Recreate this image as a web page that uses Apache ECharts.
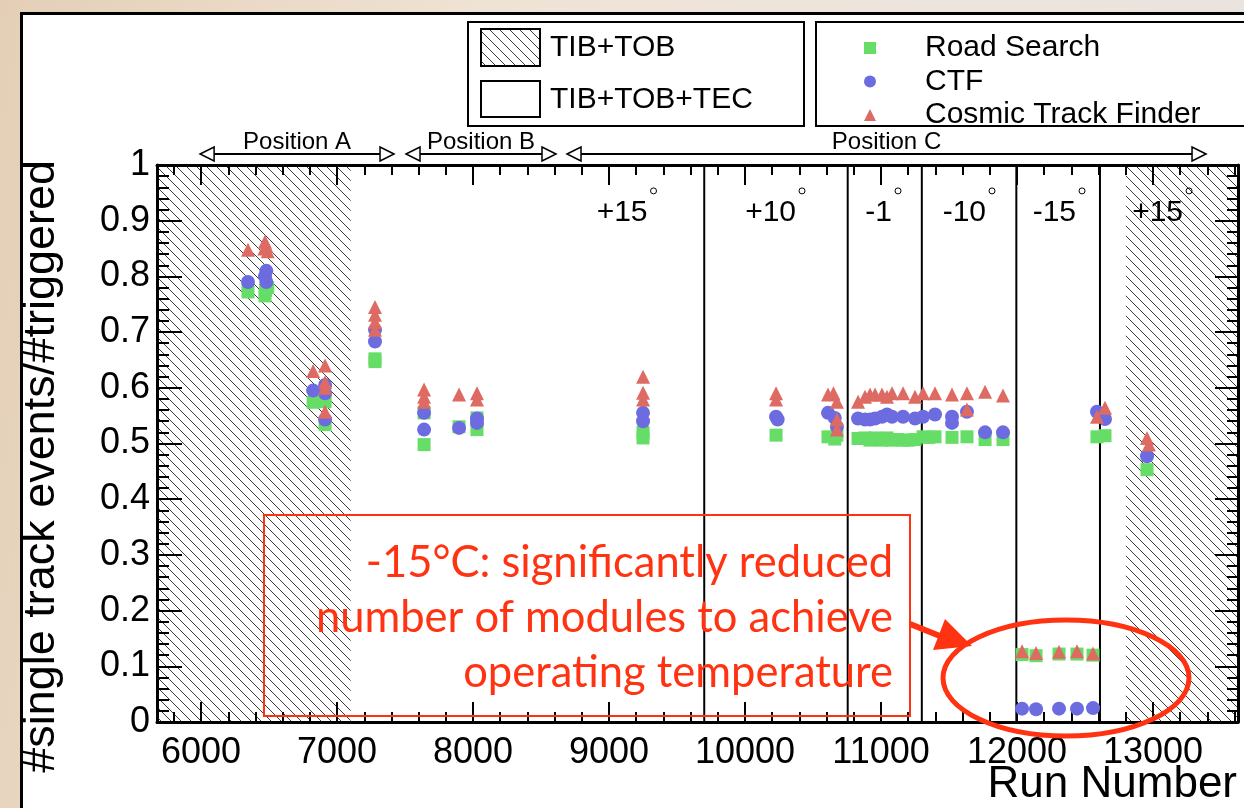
<!DOCTYPE html>
<html>
<head>
<meta charset="utf-8">
<script src="https://cdn.jsdelivr.net/npm/echarts@6.0.0/dist/echarts.min.js"></script>
<style>
html, body { margin:0; padding:0; width:1244px; height:808px; overflow:hidden; }
body { position:relative; background: linear-gradient(100deg, #e4cfb6 0%, #efe3d5 35%, #ece5de 70%, #e9e3dd 100%); }
#panel { position:absolute; left:20px; top:12px; width:1240px; height:810px; background:#fff; border-left:3px solid #000; border-top:3px solid #000; }
#chart { position:absolute; left:0; top:0; width:1244px; height:808px; }
</style>
</head>
<body>
<div id="panel"></div>
<div id="chart"></div>
<script>
// ---------------- data ----------------
const xMin = 5676, xMax = 13625;
const xTickValues = [6000, 7000, 8000, 9000, 10000, 11000, 12000, 13000];
const xTickLabels = ['6000', '7000', '8000', '9000', '10000', '11000', '12000', '13000'];
const yTickLabels = ['0', '0.1', '0.2', '0.3', '0.4', '0.5', '0.6', '0.7', '0.8', '0.9', '1'];
const seriesNames = ['Road Search', 'CTF', 'Cosmic Track Finder'];

const roadSearch = [
  [6345, 0.772], [6470, 0.765], [6475, 0.775], [6490, 0.780],
  [6824, 0.574], [6912, 0.575], [6912, 0.534],
  [7279, 0.647], [7279, 0.652],
  [7640, 0.555], [7640, 0.498],
  [7897, 0.530],
  [8029, 0.546], [8029, 0.525],
  [9250, 0.520], [9250, 0.510],
  [10228, 0.515],
  [10610, 0.512], [10660, 0.508], [10676, 0.515],
  [10831, 0.509], [10882, 0.510], [10919, 0.506], [10956, 0.510], [10990, 0.508], [11007, 0.506],
  [11044, 0.510], [11081, 0.506], [11120, 0.507], [11162, 0.506], [11200, 0.506], [11250, 0.507],
  [11309, 0.512], [11350, 0.511], [11397, 0.512], [11522, 0.511], [11632, 0.512], [11765, 0.507], [11897, 0.507],
  [12037, 0.121], [12140, 0.119], [12309, 0.122], [12441, 0.122], [12559, 0.120],
  [12588, 0.512], [12647, 0.514],
  [12956, 0.453]
];
const ctf = [
  [6345, 0.790], [6470, 0.800], [6480, 0.810], [6480, 0.790],
  [6824, 0.595], [6912, 0.605], [6912, 0.590], [6912, 0.543],
  [7279, 0.704], [7279, 0.683],
  [7640, 0.555], [7640, 0.525],
  [7897, 0.528],
  [8029, 0.537], [8029, 0.545],
  [9250, 0.555], [9250, 0.540],
  [10228, 0.548], [10240, 0.543],
  [10610, 0.555], [10660, 0.546], [10676, 0.530],
  [10831, 0.545], [10882, 0.543], [10919, 0.543], [10956, 0.545], [11007, 0.548], [11044, 0.552],
  [11081, 0.548], [11162, 0.548], [11250, 0.545],
  [11309, 0.548], [11397, 0.552], [11522, 0.548], [11522, 0.537], [11632, 0.557], [11765, 0.520], [11897, 0.520],
  [12037, 0.024], [12140, 0.023], [12309, 0.024], [12441, 0.024], [12559, 0.025],
  [12588, 0.557], [12647, 0.544],
  [12956, 0.477]
];
const cosmicTrackFinder = [
  [6345, 0.848], [6465, 0.850], [6470, 0.862], [6480, 0.855], [6490, 0.845],
  [6824, 0.630], [6912, 0.640], [6912, 0.610], [6912, 0.600], [6912, 0.557],
  [7279, 0.745], [7279, 0.731], [7279, 0.718], [7279, 0.704],
  [7640, 0.597], [7640, 0.584], [7640, 0.575],
  [7897, 0.588],
  [8029, 0.590], [8029, 0.579],
  [9250, 0.620], [9250, 0.591], [9250, 0.579],
  [10228, 0.590], [10228, 0.579],
  [10610, 0.588], [10650, 0.590], [10676, 0.575], [10676, 0.543], [10676, 0.525],
  [10831, 0.575], [10882, 0.584], [10919, 0.588], [10956, 0.588], [11007, 0.588], [11044, 0.584],
  [11081, 0.590], [11162, 0.590], [11250, 0.584],
  [11309, 0.590], [11397, 0.590], [11522, 0.588], [11632, 0.590], [11632, 0.561], [11765, 0.593], [11897, 0.586],
  [12037, 0.127], [12140, 0.124], [12309, 0.126], [12441, 0.127], [12559, 0.123],
  [12588, 0.548], [12647, 0.564],
  [12956, 0.510], [12970, 0.498]
];

const hatchRanges = [[xMin, 7100], [12800, xMax]];
const dividerRuns = [9700, 10755, 11300, 11995, 12610];
const tempLabels = ['+15', '+10', '-1', '-10', '-15', '+15'];
const tempLabelRightRuns = [9283, 10375, 11081, 11772, 12434, 13221];
const tempLabelValue = 0.914;
const positionNames = ['Position A', 'Position B', 'Position C'];
const positionRanges = [[5993, 7419], [7507, 8610], [8691, 13390]];
const detectorLegend = ['TIB+TOB', 'TIB+TOB+TEC'];
const annotationLines = ['-15°C: significantly reduced', 'number of modules to achieve', 'operating temperature'];
const yTitle = '#single track events/#triggered';
const xTitle = 'Run Number';

const xMinorTicks = [];
for (let v = 5800; v <= 13600; v += 200) xMinorTicks.push(v);

// ---------------- styling helpers ----------------
function makeHatch() {
  const c = document.createElement('canvas');
  c.width = 10; c.height = 10;
  const g = c.getContext('2d');
  g.strokeStyle = '#3a3a3a';
  g.lineWidth = 1;
  g.beginPath();
  g.moveTo(-2, -2); g.lineTo(12, 12);
  g.moveTo(-2, 8); g.lineTo(2, 12);
  g.moveTo(8, -2); g.lineTo(12, 2);
  g.stroke();
  return c;
}
const hatchCanvas = makeHatch();
const hatchFill = { image: hatchCanvas, repeat: 'repeat' };
const FONT = '"Liberation Sans", Arial, Helvetica, sans-serif';
const RED = '#ff3311';
const NOTE_FONT = '43.5px Lato, "Open Sans", sans-serif';

function xAxisDef(pos, ticks, len, showLine, showLabel) {
  return {
    type: 'value', min: xMin, max: xMax, position: pos, gridIndex: 0,
    axisLine: { show: showLine, onZero: false, lineStyle: { color: '#000', width: 3 } },
    axisTick: { show: true, inside: true, length: len, customValues: ticks, lineStyle: { color: '#000', width: 2 } },
    axisLabel: showLabel ? {
      show: true, customValues: xTickValues, margin: 13, color: '#000', fontSize: 36, fontFamily: FONT,
      formatter: v => xTickLabels[xTickValues.indexOf(v)] ?? String(v)
    } : { show: false },
    splitLine: { show: false }, minorSplitLine: { show: false }
  };
}
function yAxisDef(pos, len, minorLen, showLabel) {
  return {
    type: 'value', min: 0, max: 1, interval: 0.1, position: pos, gridIndex: 0,
    axisLine: { show: true, onZero: false, lineStyle: { color: '#000', width: 3 } },
    axisTick: { show: true, inside: true, length: len, lineStyle: { color: '#000', width: 2 } },
    minorTick: { show: true, splitNumber: 5, length: minorLen, lineStyle: { color: '#000', width: 2 } },
    axisLabel: showLabel ? {
      show: true, margin: 7, color: '#000', fontSize: 36, fontFamily: FONT,
      formatter: v => yTickLabels[Math.round(v * 10)]
    } : { show: false },
    splitLine: { show: false }, minorSplitLine: { show: false }
  };
}

const chart = echarts.init(document.getElementById('chart'), null, { renderer: 'canvas' });

const option = {
  animation: false,
  backgroundColor: 'transparent',
  grid: { left: 157, top: 165, width: 1081, height: 557, containLabel: false },
  xAxis: [
    xAxisDef('bottom', xTickValues, 20, true, true),
    xAxisDef('bottom', xMinorTicks, 10, false, false),
    xAxisDef('top', xTickValues, 20, true, false),
    xAxisDef('top', xMinorTicks, 10, false, false)
  ],
  yAxis: [
    yAxisDef('left', 25, 12, true),
    yAxisDef('right', 23, 11, false)
  ],
  legend: {
    show: true, orient: 'vertical', left: 859, top: 28,
    itemWidth: 12, itemHeight: 12, itemGap: 3.5, selectedMode: false,
    data: seriesNames,
    textStyle: { fontFamily: FONT, fontSize: 30, color: '#000', lineHeight: 30, padding: [0, 0, 0, 44] }
  },
  graphic: [
    // detector legend box
    { type: 'rect', z: 100, shape: { x: 468, y: 22, width: 336, height: 104 }, style: { fill: '#fff', stroke: '#000', lineWidth: 2 } },
    { type: 'rect', z: 101, shape: { x: 481, y: 29, width: 59, height: 37 }, style: { fill: hatchFill, stroke: '#000', lineWidth: 2 } },
    { type: 'rect', z: 101, shape: { x: 481, y: 81, width: 59, height: 36 }, style: { fill: '#fff', stroke: '#000', lineWidth: 2 } },
    { type: 'text', z: 101, x: 550, y: 48, style: { text: detectorLegend[0], font: '30px ' + FONT, fill: '#000', align: 'left', verticalAlign: 'middle' } },
    { type: 'text', z: 101, x: 550, y: 100, style: { text: detectorLegend[1], font: '30px ' + FONT, fill: '#000', align: 'left', verticalAlign: 'middle' } },
    // series legend box (legend drawn by echarts on top)
    { type: 'rect', z: -1, shape: { x: 816, y: 22, width: 450, height: 104 }, style: { fill: '#fff', stroke: '#000', lineWidth: 2 } },
    // axis titles
    { type: 'text', z: 100, x: 42, y: 160, rotation: Math.PI / 2, style: { text: yTitle, font: '45px ' + FONT, fill: '#000', align: 'right', verticalAlign: 'middle' } },
    { type: 'text', z: 100, x: 1237, y: 785, style: { text: xTitle, font: '44px ' + FONT, fill: '#000', align: 'right', verticalAlign: 'middle' } },
    // red annotation
    { type: 'rect', z: 100, shape: { x: 264, y: 515, width: 646, height: 201 }, style: { fill: 'none', stroke: RED, lineWidth: 2 } },
    { type: 'text', z: 100, x: 893, y: 563, style: { text: annotationLines[0], font: NOTE_FONT, fill: RED, align: 'right', verticalAlign: 'middle' } },
    { type: 'text', z: 100, x: 893, y: 618, style: { text: annotationLines[1], font: NOTE_FONT, fill: RED, align: 'right', verticalAlign: 'middle' } },
    { type: 'text', z: 100, x: 893, y: 673, style: { text: annotationLines[2], font: NOTE_FONT, fill: RED, align: 'right', verticalAlign: 'middle' } },
    { type: 'line', z: 100, shape: { x1: 910, y1: 624, x2: 945, y2: 638 }, style: { stroke: RED, lineWidth: 6 } },
    { type: 'polygon', z: 100, shape: { points: [[945, 619], [933, 650], [972, 646]] }, style: { fill: RED } },
    { type: 'ellipse', z: 100, shape: { cx: 1066, cy: 678, rx: 123, ry: 58 }, style: { fill: 'none', stroke: RED, lineWidth: 5 } }
  ],
  series: [
    {
      type: 'custom', name: 'hatch', coordinateSystem: 'cartesian2d', clip: true, z: 0, silent: true,
      data: hatchRanges,
      renderItem: (params, api) => {
        const p0 = api.coord([api.value(0), 1]);
        const p1 = api.coord([api.value(1), 0]);
        return { type: 'rect', shape: { x: p0[0], y: p0[1], width: p1[0] - p0[0], height: p1[1] - p0[1] }, style: { fill: hatchFill, stroke: null } };
      }
    },
    {
      type: 'custom', name: 'dividers', coordinateSystem: 'cartesian2d', clip: true, z: 1, silent: true,
      data: dividerRuns.map(v => [v, 0]),
      renderItem: (params, api) => {
        const a = api.coord([api.value(0), 0]);
        const b = api.coord([api.value(0), 1]);
        return { type: 'line', shape: { x1: a[0], y1: a[1], x2: b[0], y2: b[1] }, style: { stroke: '#000', lineWidth: 2 } };
      }
    },
    {
      type: 'custom', name: 'temperatures', coordinateSystem: 'cartesian2d', clip: false, z: 1, silent: true,
      data: tempLabelRightRuns.map(v => [v, tempLabelValue]),
      renderItem: (params, api) => {
        const p = api.coord([api.value(0), api.value(1)]);
        return {
          type: 'group', children: [
            { type: 'text', x: p[0], y: p[1], style: { text: tempLabels[params.dataIndex], font: '30px ' + FONT, fill: '#000', align: 'right', verticalAlign: 'middle' } },
            { type: 'circle', shape: { cx: p[0] + 6, cy: p[1] - 22, r: 3 }, style: { fill: 'none', stroke: '#000', lineWidth: 1 } }
          ]
        };
      }
    },
    {
      type: 'custom', name: 'positions', coordinateSystem: 'cartesian2d', clip: false, z: 1, silent: true,
      data: positionRanges,
      renderItem: (params, api) => {
        const a = api.coord([api.value(0), 1]);
        const b = api.coord([api.value(1), 1]);
        const y = a[1] - 11;
        const x0 = a[0], x1 = b[0];
        return {
          type: 'group', children: [
            { type: 'line', shape: { x1: x0 + 14, y1: y, x2: x1 - 14, y2: y }, style: { stroke: '#000', lineWidth: 2 } },
            { type: 'polygon', shape: { points: [[x0, y], [x0 + 14, y - 7], [x0 + 14, y + 7]] }, style: { fill: '#fff', stroke: '#000', lineWidth: 1.5 } },
            { type: 'polygon', shape: { points: [[x1, y], [x1 - 14, y - 7], [x1 - 14, y + 7]] }, style: { fill: '#fff', stroke: '#000', lineWidth: 1.5 } },
            { type: 'text', x: (x0 + x1) / 2, y: y - 12, style: { text: positionNames[params.dataIndex], font: '24px ' + FONT, fill: '#000', align: 'center', verticalAlign: 'middle' } }
          ]
        };
      }
    },
    {
      name: seriesNames[0], type: 'scatter', data: roadSearch, symbol: 'rect', symbolSize: 13, z: 3,
      itemStyle: { color: '#66dd66', opacity: 1 }, emphasis: { disabled: true }
    },
    {
      name: seriesNames[1], type: 'scatter', data: ctf, symbol: 'circle', symbolSize: 14, z: 4,
      itemStyle: { color: '#6c6ce0', opacity: 1 }, emphasis: { disabled: true }
    },
    {
      name: seriesNames[2], type: 'scatter', data: cosmicTrackFinder, symbol: 'triangle', symbolSize: 14, z: 5,
      itemStyle: { color: '#de6b63', opacity: 1 }, emphasis: { disabled: true }
    }
  ]
};
chart.setOption(option);
</script>
</body>
</html>
